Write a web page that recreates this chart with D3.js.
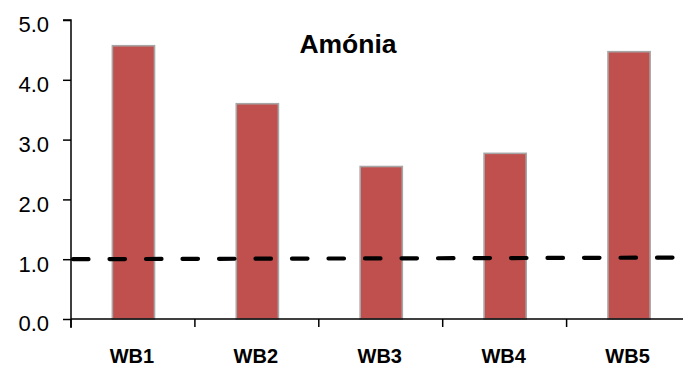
<!DOCTYPE html>
<html>
<head>
<meta charset="utf-8">
<script src="https://cdn.jsdelivr.net/npm/d3@7"></script>
<style>
  html, body { margin: 0; padding: 0; background: #fff; }
  svg { display: block; font-family: "Liberation Sans", Arial, sans-serif; }
</style>
</head>
<body>
<svg id="chart" width="683" height="367"></svg>
<script>
// Ammonia concentration per water body
const categories = ["WB1", "WB2", "WB3", "WB4", "WB5"];
const values = [4.57, 3.60, 2.55, 2.77, 4.47];
// Reference limit line, start and end value
const limitValues = [1.0, 1.027];
const yTicks = [0, 1, 2, 3, 4, 5];
const title = "Amónia";

const svg = d3.select("#chart");
const plotLeft = 71, plotRight = 690.5, plotTop = 20, plotBottom = 319;

const x = d3.scaleBand().domain(categories).range([plotLeft, plotRight]).padding(0);
const y = d3.scaleLinear().domain([0, 5]).range([plotBottom, plotTop]);

// bars
const bw = x.bandwidth() * 0.34;
svg.append("g").selectAll("rect")
  .data(values)
  .join("rect")
  .attr("x", (d, i) => x(categories[i]) + x.bandwidth() / 2 - bw / 2 + 0.5)
  .attr("y", d => y(d))
  .attr("width", bw)
  .attr("height", d => y(0) - y(d))
  .attr("fill", "#c0504d")
  .attr("stroke", "#a6a6a6")
  .attr("stroke-width", 1.6);

// y axis
const yAxis = svg.append("g")
  .attr("transform", `translate(${plotLeft},0)`)
  .call(d3.axisLeft(y).tickValues(yTicks).tickFormat(d3.format(".1f")).tickSize(8).tickPadding(14));
yAxis.select(".domain").attr("stroke", "#000").attr("stroke-width", 1.5).attr("d", `M-8,${plotTop}H0V${plotBottom + 9}`);
yAxis.selectAll(".tick line").attr("stroke", "#000").attr("stroke-width", 1.5);
yAxis.selectAll(".tick text").attr("font-size", 22).attr("fill", "#000").attr("dy", "0.72em").attr("y", -4);

// x axis with boundary ticks between categories
const xAxis = svg.append("g").attr("transform", `translate(0,${plotBottom})`);
xAxis.append("line")
  .attr("x1", plotLeft).attr("x2", 683)
  .attr("stroke", "#000").attr("stroke-width", 1.5);
const bounds = categories.map(c => x(c)).concat([plotRight]);
xAxis.selectAll("line.tk")
  .data(bounds)
  .join("line")
  .attr("class", "tk")
  .attr("x1", d => d).attr("x2", d => d)
  .attr("y1", 0).attr("y2", 8)
  .attr("stroke", "#000").attr("stroke-width", 1.5);
xAxis.selectAll("text")
  .data(categories)
  .join("text")
  .attr("x", d => x(d) + x.bandwidth() / 2 - 1)
  .attr("y", 44)
  .attr("text-anchor", "middle")
  .attr("font-size", 20)
  .attr("font-weight", "bold")
  .attr("fill", "#000")
  .text(d => d);

// dashed limit line
svg.append("line")
  .attr("x1", plotLeft + 2).attr("x2", 683)
  .attr("y1", y(limitValues[0])).attr("y2", y(limitValues[1]))
  .attr("stroke", "#000")
  .attr("stroke-width", 4.2)
  .attr("stroke-linecap", "round")
  .attr("stroke-dasharray", "15.5 21");

// title
svg.append("text")
  .attr("x", 348).attr("y", 52.5)
  .attr("text-anchor", "middle")
  .attr("font-size", 26.5)
  .attr("font-weight", "bold")
  .attr("fill", "#000")
  .text(title);
</script>
</body>
</html>
